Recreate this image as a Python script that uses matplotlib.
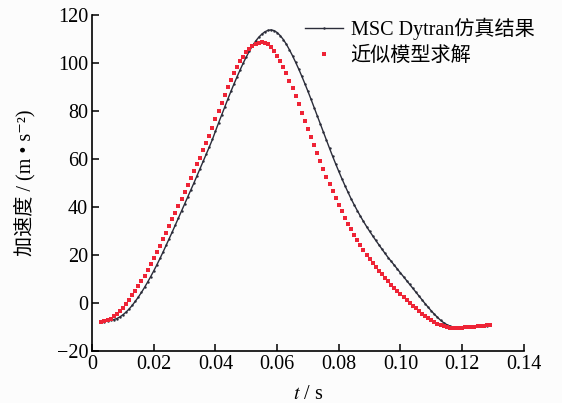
import numpy as np
import matplotlib
matplotlib.use("Agg")
from matplotlib import pyplot as plt

plt.rcParams['font.family'] = ['Liberation Serif', 'Noto Sans CJK SC', 'DejaVu Serif']
plt.rcParams['mathtext.fontset'] = 'stix'

# time axis for both series, 1 ms step
t_start, t_step = 0.003, 0.001

# MSC Dytran simulation result (m/s^2)
dytran = [
    -8.0, -7.8, -7.5, -7.2, -6.9, -6.5, -5.8, -4.9, -3.8, -2.5,
    -1.0, 0.7, 2.5, 4.4, 6.5, 8.7, 11.0, 13.4, 15.9, 18.5,
    21.2, 24.0, 26.8, 29.6, 32.5, 35.4, 38.3, 41.2, 44.1, 47.0,
    49.9, 52.9, 55.9, 58.9, 61.9, 64.9, 68.0, 71.5, 74.9, 78.2,
    81.5, 84.8, 88.0, 91.1, 94.1, 97.0, 99.8, 102.4, 104.8, 107.0,
    108.9, 110.5, 111.8, 112.8, 113.4, 113.6, 113.3, 112.5, 111.2, 109.6,
    107.6, 105.3, 102.8, 100.1, 97.3, 94.3, 91.2, 88.0, 84.7, 81.3,
    77.9, 74.5, 71.1, 67.7, 64.3, 61.0, 57.8, 54.7, 51.7, 48.8,
    46.0, 43.3, 40.8, 38.4, 36.1, 33.9, 31.8, 29.8, 27.9, 26.0,
    24.2, 22.4, 20.6, 18.9, 17.3, 15.7, 14.1, 12.5, 10.9, 9.3,
    7.7, 6.1, 4.5, 2.9, 1.3, -0.3, -1.8, -3.3, -4.7, -6.0,
    -7.2, -8.2, -9.0, -9.6, -10.0, -10.2, -10.3, -10.2, -10.1, -10.0,
    -9.9, -9.8, -9.7, -9.6, -9.5, -9.4, -9.3,
]

# approximate model solution (m/s^2)
approx = [
    -8.0, -7.7, -7.2, -6.5, -5.6, -4.6, -3.4, -2.0, -0.4, 1.3,
    3.1, 5.0, 7.0, 9.1, 11.3, 13.6, 16.0, 18.5, 21.1, 23.8,
    26.5, 29.2, 32.0, 34.8, 37.6, 40.4, 43.2, 46.0, 48.9, 51.8,
    54.7, 57.6, 60.5, 63.5, 66.5, 69.5, 72.6, 76.5, 80.0, 83.3,
    86.6, 89.8, 92.8, 95.6, 98.2, 100.5, 102.5, 104.2, 105.6, 106.7,
    107.6, 108.2, 108.5, 108.3, 107.6, 106.4, 104.8, 102.9, 100.7, 98.2,
    95.5, 92.5, 89.3, 86.0, 82.6, 79.2, 75.8, 72.4, 69.0, 65.6,
    62.3, 59.0, 55.8, 52.6, 49.5, 46.5, 43.6, 40.8, 38.1, 35.5,
    33.0, 30.6, 28.3, 26.1, 24.0, 22.0, 20.1, 18.3, 16.6, 15.0,
    13.4, 11.9, 10.4, 9.0, 7.6, 6.2, 4.9, 3.6, 2.4, 1.2,
    0.0, -1.2, -2.3, -3.4, -4.4, -5.4, -6.3, -7.1, -7.9, -8.6,
    -9.2, -9.7, -10.1, -10.4, -10.5, -10.5, -10.4, -10.3, -10.2, -10.1,
    -10.0, -9.9, -9.8, -9.6, -9.5, -9.3, -9.2,
]

t = t_start + t_step * np.arange(len(dytran))

xticks = [0, 0.02, 0.04, 0.06, 0.08, 0.10, 0.12, 0.14]
xticklabels = ['0', '0.02', '0.04', '0.06', '0.08', '0.10', '0.12', '0.14']
yticks = [-20, 0, 20, 40, 60, 80, 100, 120]

fig = plt.figure(figsize=(5.62, 4.03), dpi=100, facecolor='#fcfcfc')
ax = fig.add_axes([0.164, 0.129, 0.768, 0.835], facecolor='#fcfcfc')

ax.plot(t, dytran, color='#2b2d3a', lw=1.0, marker='.', markersize=1.5,
        label='MSC Dytran仿真结果', zorder=2)
ax.plot(t, approx, ls='none', marker='s', markersize=3.3, color='#ee2436',
        markeredgewidth=0, label='近似模型求解', zorder=3)

ax.set_xlim(0, 0.14)
ax.set_ylim(-20, 120)
ax.set_xticks(xticks)
ax.set_xticklabels(xticklabels)
ax.set_yticks(yticks)
ax.tick_params(direction='in', length=5, width=1.1, labelsize=14.5, pad=3)
for s in ('top', 'right'):
    ax.spines[s].set_visible(False)
for s in ('left', 'bottom'):
    ax.spines[s].set_linewidth(1.2)

ax.set_xlabel('$t$ / s', fontsize=14.5, labelpad=8)
ax.set_ylabel('加速度 / (m • s⁻²)', fontsize=14.5, labelpad=15)

leg = fig.legend(loc='upper left', bbox_to_anchor=(0.529, 0.975), frameon=False,
                 fontsize=14.5, handlelength=1.85, handletextpad=0.4,
                 labelspacing=0.3, borderaxespad=0)

fig.savefig('out.png', dpi=100, facecolor=fig.get_facecolor())
